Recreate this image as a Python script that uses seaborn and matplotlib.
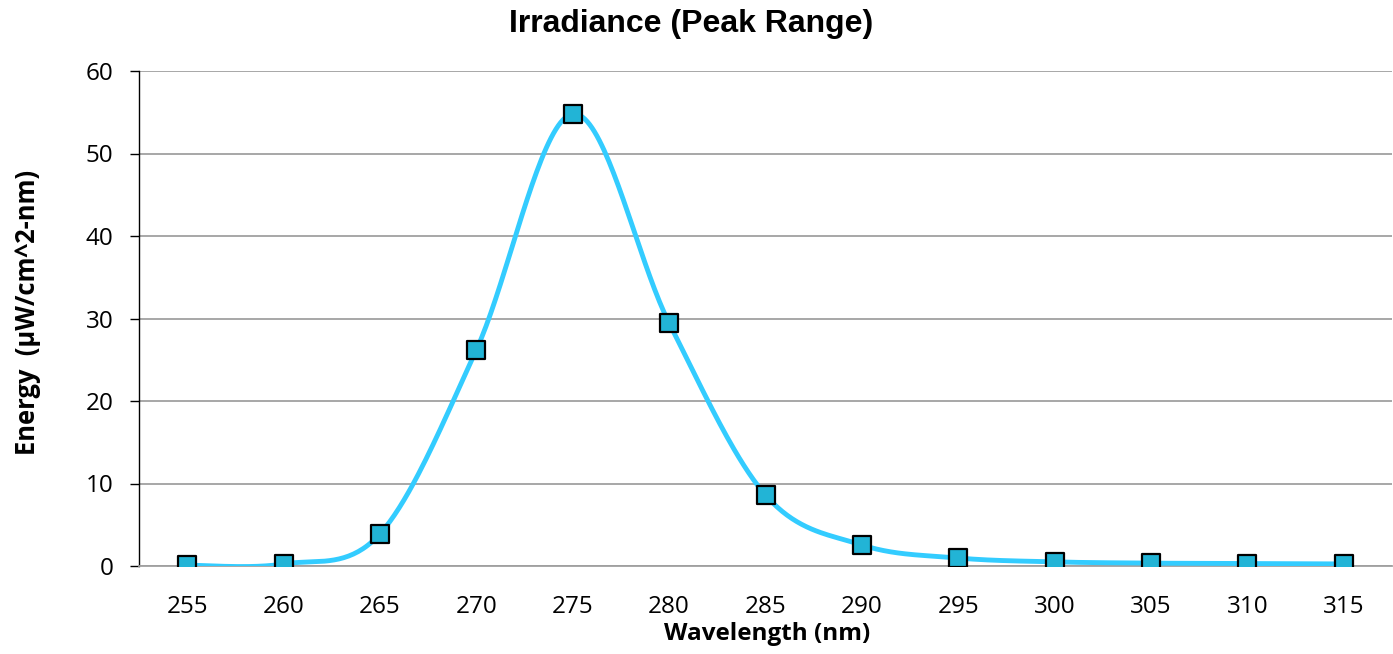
import numpy as np
import pandas as pd
import matplotlib
matplotlib.use("Agg")
import matplotlib.pyplot as plt
import seaborn as sns

wavelengths = [255, 260, 265, 270, 275, 280, 285, 290, 295, 300, 305, 310, 315]
energy = [0.1, 0.25, 3.9, 26.2, 54.8, 29.45, 8.6, 2.55, 0.97, 0.5, 0.35, 0.3, 0.25]
y_ticks = [0, 10, 20, 30, 40, 50, 60]

sns.set_theme(style="white")
plt.rcParams['font.family'] = ['Open Sans', 'DejaVu Sans']
plt.rcParams['text.color'] = 'black'

# Excel-style smoothed line (Bezier with Catmull-Rom control points)
def smooth(xs, ys, n=40):
    pts = np.column_stack([xs, ys]).astype(float)
    out = []
    for i in range(len(pts) - 1):
        p0 = pts[i - 1] if i > 0 else pts[i]
        p1 = pts[i]
        p2 = pts[i + 1]
        p3 = pts[i + 2] if i + 2 < len(pts) else pts[i + 1]
        c1 = p1 + (p2 - p0) / 6.0
        c2 = p2 - (p3 - p1) / 6.0
        t = np.linspace(0, 1, n, endpoint=(i == len(pts) - 2))[:, None]
        seg = (1 - t) ** 3 * p1 + 3 * (1 - t) ** 2 * t * c1 + 3 * (1 - t) * t ** 2 * c2 + t ** 3 * p2
        out.append(seg)
    out = np.vstack(out)
    return out[:, 0], out[:, 1]

idx = np.arange(len(wavelengths))
sx, sy = smooth(idx, energy)
curve = pd.DataFrame({"x": sx, "y": sy})
pts = pd.DataFrame({"x": idx, "y": energy})

fig = plt.figure(figsize=(13.93, 6.54), dpi=100)
ax = fig.add_axes([139 / 1393, 1 - 566 / 654, (1392 - 139) / 1393, (566 - 71) / 654])

sns.lineplot(data=curve, x="x", y="y", ax=ax, color="#33CCFF", linewidth=3.5, sort=False, zorder=3)
sns.scatterplot(data=pts, x="x", y="y", ax=ax, marker="s", s=180, color="#22B4D6",
                edgecolor="black", linewidth=1.6, zorder=4)

ax.set_xlim(-0.5, len(wavelengths) - 0.5)
ax.set_ylim(0, 60)
ax.set_xticks(idx)
ax.set_xticklabels([str(w) for w in wavelengths])
ax.set_yticks(y_ticks)
ax.set_yticklabels([str(v) for v in y_ticks])

ax.yaxis.grid(True, color="#A0A0A0", linewidth=1.3)
ax.xaxis.grid(False)
ax.set_axisbelow(True)
for s in ["top", "right"]:
    ax.spines[s].set_visible(False)
ax.spines["left"].set_color("black")
ax.spines["left"].set_linewidth(1.0)
ax.spines["bottom"].set_color("#A0A0A0")
ax.spines["bottom"].set_linewidth(1.3)

ax.tick_params(axis="y", which="both", left=True, length=6.5, width=1, color="black",
               labelsize=17.5, pad=12, labelcolor="black")
ax.tick_params(axis="x", which="both", bottom=False, labelsize=17.5, pad=15, labelcolor="black")

ax.set_xlabel("Wavelength (nm)", fontsize=17.5, fontweight="bold", color="black")
ax.xaxis.set_label_coords((767 - 139) / 1253, -(634 - 566) / 495)
ax.xaxis.label.set_va("center")
ax.set_ylabel("Energy  (µW/cm^2-nm)", fontsize=18.4, fontweight="bold", color="black")
ax.yaxis.set_label_coords(-(139 - 28) / 1253, (566 - 312) / 495)
ax.yaxis.label.set_va("center")
fig.suptitle("Irradiance (Peak Range)", x=(510 + 872) / 2 / 1393, y=1 - 24 / 654, va="center",
             fontsize=23, fontweight="bold", color="black", family=["Liberation Sans", "DejaVu Sans"])

fig.savefig("out.png", dpi=100)
